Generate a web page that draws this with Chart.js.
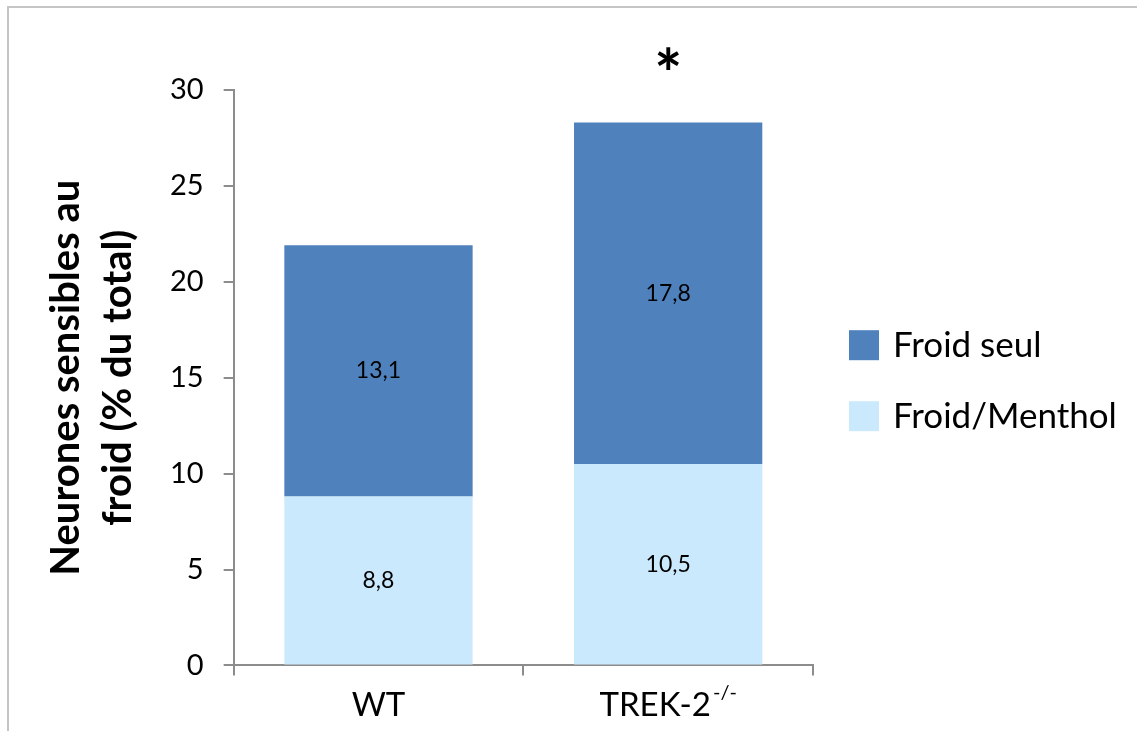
<!DOCTYPE html>
<html>
<head>
<meta charset="utf-8">
<script src="https://cdn.jsdelivr.net/npm/chart.js@4.4.1/dist/chart.umd.min.js"></script>
<style>
  body { margin: 0; background: #fff; }
</style>
</head>
<body>
<canvas id="chart" width="1137" height="731"></canvas>
<script>
const groups = ["WT", "TREK-2"];
const groupSup = ["", "-/-"];
const froidMenthol = [8.8, 10.5];
const froidSeul = [13.1, 17.8];
const stars = ["", "*"];
const yTicks = [0, 5, 10, 15, 20, 25, 30];

const fontFam = "Lato, 'Liberation Sans', sans-serif";
const axisGrey = "#8c8c8c";

// frame line at top/left, like the pasted excel chart
const framePlugin = {
    id: "frame",
    beforeDraw(chart) {
        const ctx = chart.ctx;
        ctx.save();
        ctx.strokeStyle = "#c4c4c4";
        ctx.lineWidth = 2;
        ctx.beginPath();
        ctx.moveTo(8, chart.height);
        ctx.lineTo(8, 7);
        ctx.lineTo(chart.width, 7);
        ctx.stroke();
        ctx.restore();
    }
};

// numbers inside segments, star above the bar, x labels with superscript, legend
const labelPlugin = {
    id: "labels",
    afterDatasetsDraw(chart) {
        const ctx = chart.ctx;
        const area = chart.chartArea;
        ctx.save();
        ctx.fillStyle = "#000";
        ctx.textAlign = "center";
        ctx.textBaseline = "middle";
        ctx.font = "23px " + fontFam;
        chart.data.datasets.forEach((ds, i) => {
            chart.getDatasetMeta(i).data.forEach((bar, j) => {
                const p = bar.getProps(["x", "y", "base"], true);
                ctx.fillText(ds.data[j].toFixed(1).replace(".", ","), p.x, (p.y + p.base) / 2);
            });
        });

        const top = chart.getDatasetMeta(chart.data.datasets.length - 1).data;
        ctx.font = "bold 66px " + fontFam;
        ctx.textBaseline = "alphabetic";
        stars.forEach((s, j) => {
            if (!s) return;
            const p = top[j].getProps(["x", "y"], true);
            const m = ctx.measureText(s);
            const cy = p.y - 64;
            ctx.fillText(s, p.x, cy + (m.actualBoundingBoxAscent - m.actualBoundingBoxDescent) / 2);
        });

        ctx.textBaseline = "middle";
        const xs = chart.scales.x;
        const yLab = xs.bottom - 26;
        groups.forEach((g, j) => {
            const cx = xs.getPixelForValue(j);
            ctx.font = "33px " + fontFam;
            const w1 = ctx.measureText(g).width;
            ctx.font = "20px " + fontFam;
            const w2 = groupSup[j] ? ctx.measureText(groupSup[j]).width + 2 : 0;
            const x0 = cx - (w1 + w2) / 2;
            ctx.textAlign = "left";
            ctx.font = "33px " + fontFam;
            ctx.fillText(g, x0, yLab);
            if (w2) {
                ctx.font = "20px " + fontFam;
                ctx.fillText(groupSup[j], x0 + w1 + 2, yLab - 12);
            }
        });

        // legend, top series first
        const midY = (area.top + area.bottom) / 2 + 3;
        const lx = area.right + 36;
        const items = chart.data.datasets.slice().reverse();
        ctx.font = "35px " + fontFam;
        ctx.textAlign = "left";
        items.forEach((ds, k) => {
            const cy = midY + (k - (items.length - 1) / 2) * 71;
            ctx.fillStyle = ds.backgroundColor;
            ctx.fillRect(lx, cy - 15, 30, 30);
            ctx.fillStyle = "#000";
            ctx.fillText(ds.label, lx + 44, cy + 1);
        });
        ctx.restore();
    }
};

new Chart(document.getElementById("chart"), {
    type: "bar",
    data: {
        labels: groups,
        datasets: [
            {
                label: "Froid/Menthol",
                data: froidMenthol,
                backgroundColor: "#cbe9fc",
                barPercentage: 0.65,
                categoryPercentage: 1
            },
            {
                label: "Froid seul",
                data: froidSeul,
                backgroundColor: "#4f81bd",
                barPercentage: 0.65,
                categoryPercentage: 1
            }
        ]
    },
    options: {
        responsive: false,
        animation: false,
        layout: { padding: { top: 90, left: 40, right: 324, bottom: 0 } },
        plugins: {
            tooltip: { enabled: false },
            legend: { display: false }
        },
        scales: {
            x: {
                stacked: true,
                border: { color: axisGrey, width: 2 },
                grid: { offset: true, drawOnChartArea: false, tickLength: 10, color: axisGrey, lineWidth: 2 },
                ticks: { color: "rgba(0,0,0,0)", font: { family: fontFam, size: 33 }, padding: 8 }
            },
            y: {
                stacked: true,
                min: 0,
                max: 30,
                afterBuildTicks(scale) {
                    scale.ticks = yTicks.map(v => ({ value: v }));
                },
                border: { color: axisGrey, width: 2 },
                grid: { drawOnChartArea: false, tickLength: 10, color: axisGrey, lineWidth: 2 },
                ticks: { color: "#000", font: { family: fontFam, size: 29 }, padding: 20 },
                title: {
                    display: true,
                    text: ["Neurones sensibles au", "froid (% du total)"],
                    color: "#000",
                    font: { family: fontFam, size: 40, weight: "bold", lineHeight: 1.3 },
                    padding: { top: 0, bottom: 6 }
                }
            }
        }
    },
    plugins: [framePlugin, labelPlugin]
});
</script>
</body>
</html>
